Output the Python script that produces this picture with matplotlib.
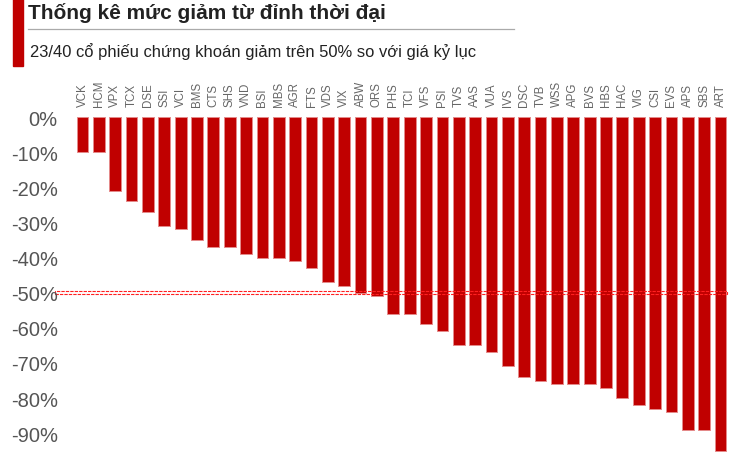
import matplotlib.pyplot as plt
import matplotlib.transforms as mtransforms
from matplotlib.patches import Rectangle

plt.rcParams['font.family'] = ['Liberation Sans', 'DejaVu Sans']

# data (% drop from all-time high)
tickers = ['VCK', 'HCM', 'VPX', 'TCX', 'DSE', 'SSI', 'VCI', 'BMS', 'CTS', 'SHS',
           'VND', 'BSI', 'MBS', 'AGR', 'FTS', 'VDS', 'VIX', 'ABW', 'ORS', 'PHS',
           'TCI', 'VFS', 'PSI', 'TVS', 'AAS', 'VUA', 'IVS', 'DSC', 'TVB', 'WSS',
           'APG', 'BVS', 'HBS', 'HAC', 'VIG', 'CSI', 'EVS', 'APS', 'SBS', 'ART']
drops = [-10, -10, -21, -24, -27, -31, -32, -35, -37, -37,
         -39, -40, -40, -41, -43, -47, -48, -50, -51, -56,
         -56, -59, -61, -65, -65, -67, -71, -74, -75, -76,
         -76, -76, -77, -80, -82, -83, -84, -89, -89, -95]
yticks = [0, -10, -20, -30, -40, -50, -60, -70, -80, -90]
threshold = -50

W, H = 730, 456
fig = plt.figure(figsize=(W / 100, H / 100), dpi=100)

# header: red side bar, title, rule, subtitle
fig.patches.append(Rectangle((13 / W, 1 - 67 / H), 10 / W, 67 / H,
                             transform=fig.transFigure, color='#c00000'))
fig.text(28 / W, 1 - 19 / H, 'Thống kê mức giảm từ đỉnh thời đại',
         fontsize=15, fontweight='bold', color='#222222', va='baseline')
fig.add_artist(plt.Line2D([28 / W, 514 / W], [1 - 30 / H, 1 - 30 / H],
                          color='#aaaaaa', lw=0.9))
fig.text(30 / W, 1 - 57 / H, '23/40 cổ phiếu chứng khoán giảm trên 50% so với giá kỷ lục',
         fontsize=11.9, color='#222222', va='baseline')

ax = fig.add_axes([55 / W, 0, 1 - 55 / W, (H - 110) / H])
x = list(range(len(tickers)))
ax.bar(x, drops, width=0.72, color='#c00000', edgecolor='#e58a8a', linewidth=0.7)

# -50% marker: thin dashed double line
trans = mtransforms.blended_transform_factory(ax.transAxes, ax.transData)
ax.add_patch(Rectangle((0, threshold - 0.45), 0.996, 0.9, transform=trans, fill=False,
                       edgecolor='#ff2020', linestyle=(0, (3, 1)), linewidth=0.8,
                       clip_on=False))

ax.set_xlim(-1.68, 39.58)
ax.set_ylim(-96.2, 2.3)

ax.set_yticks(yticks)
ax.set_yticklabels([f'{v}%' for v in yticks])
ax.tick_params(axis='y', length=0, pad=-2, labelsize=14.5, labelcolor='#555555')

ax.xaxis.tick_top()
ax.set_xticks(x)
ax.set_xticklabels(tickers, rotation=90)
ax.tick_params(axis='x', length=0, pad=2, labelsize=8.3, labelcolor='#666666')

for s in ax.spines.values():
    s.set_visible(False)

fig.savefig('out.png', dpi=100)
